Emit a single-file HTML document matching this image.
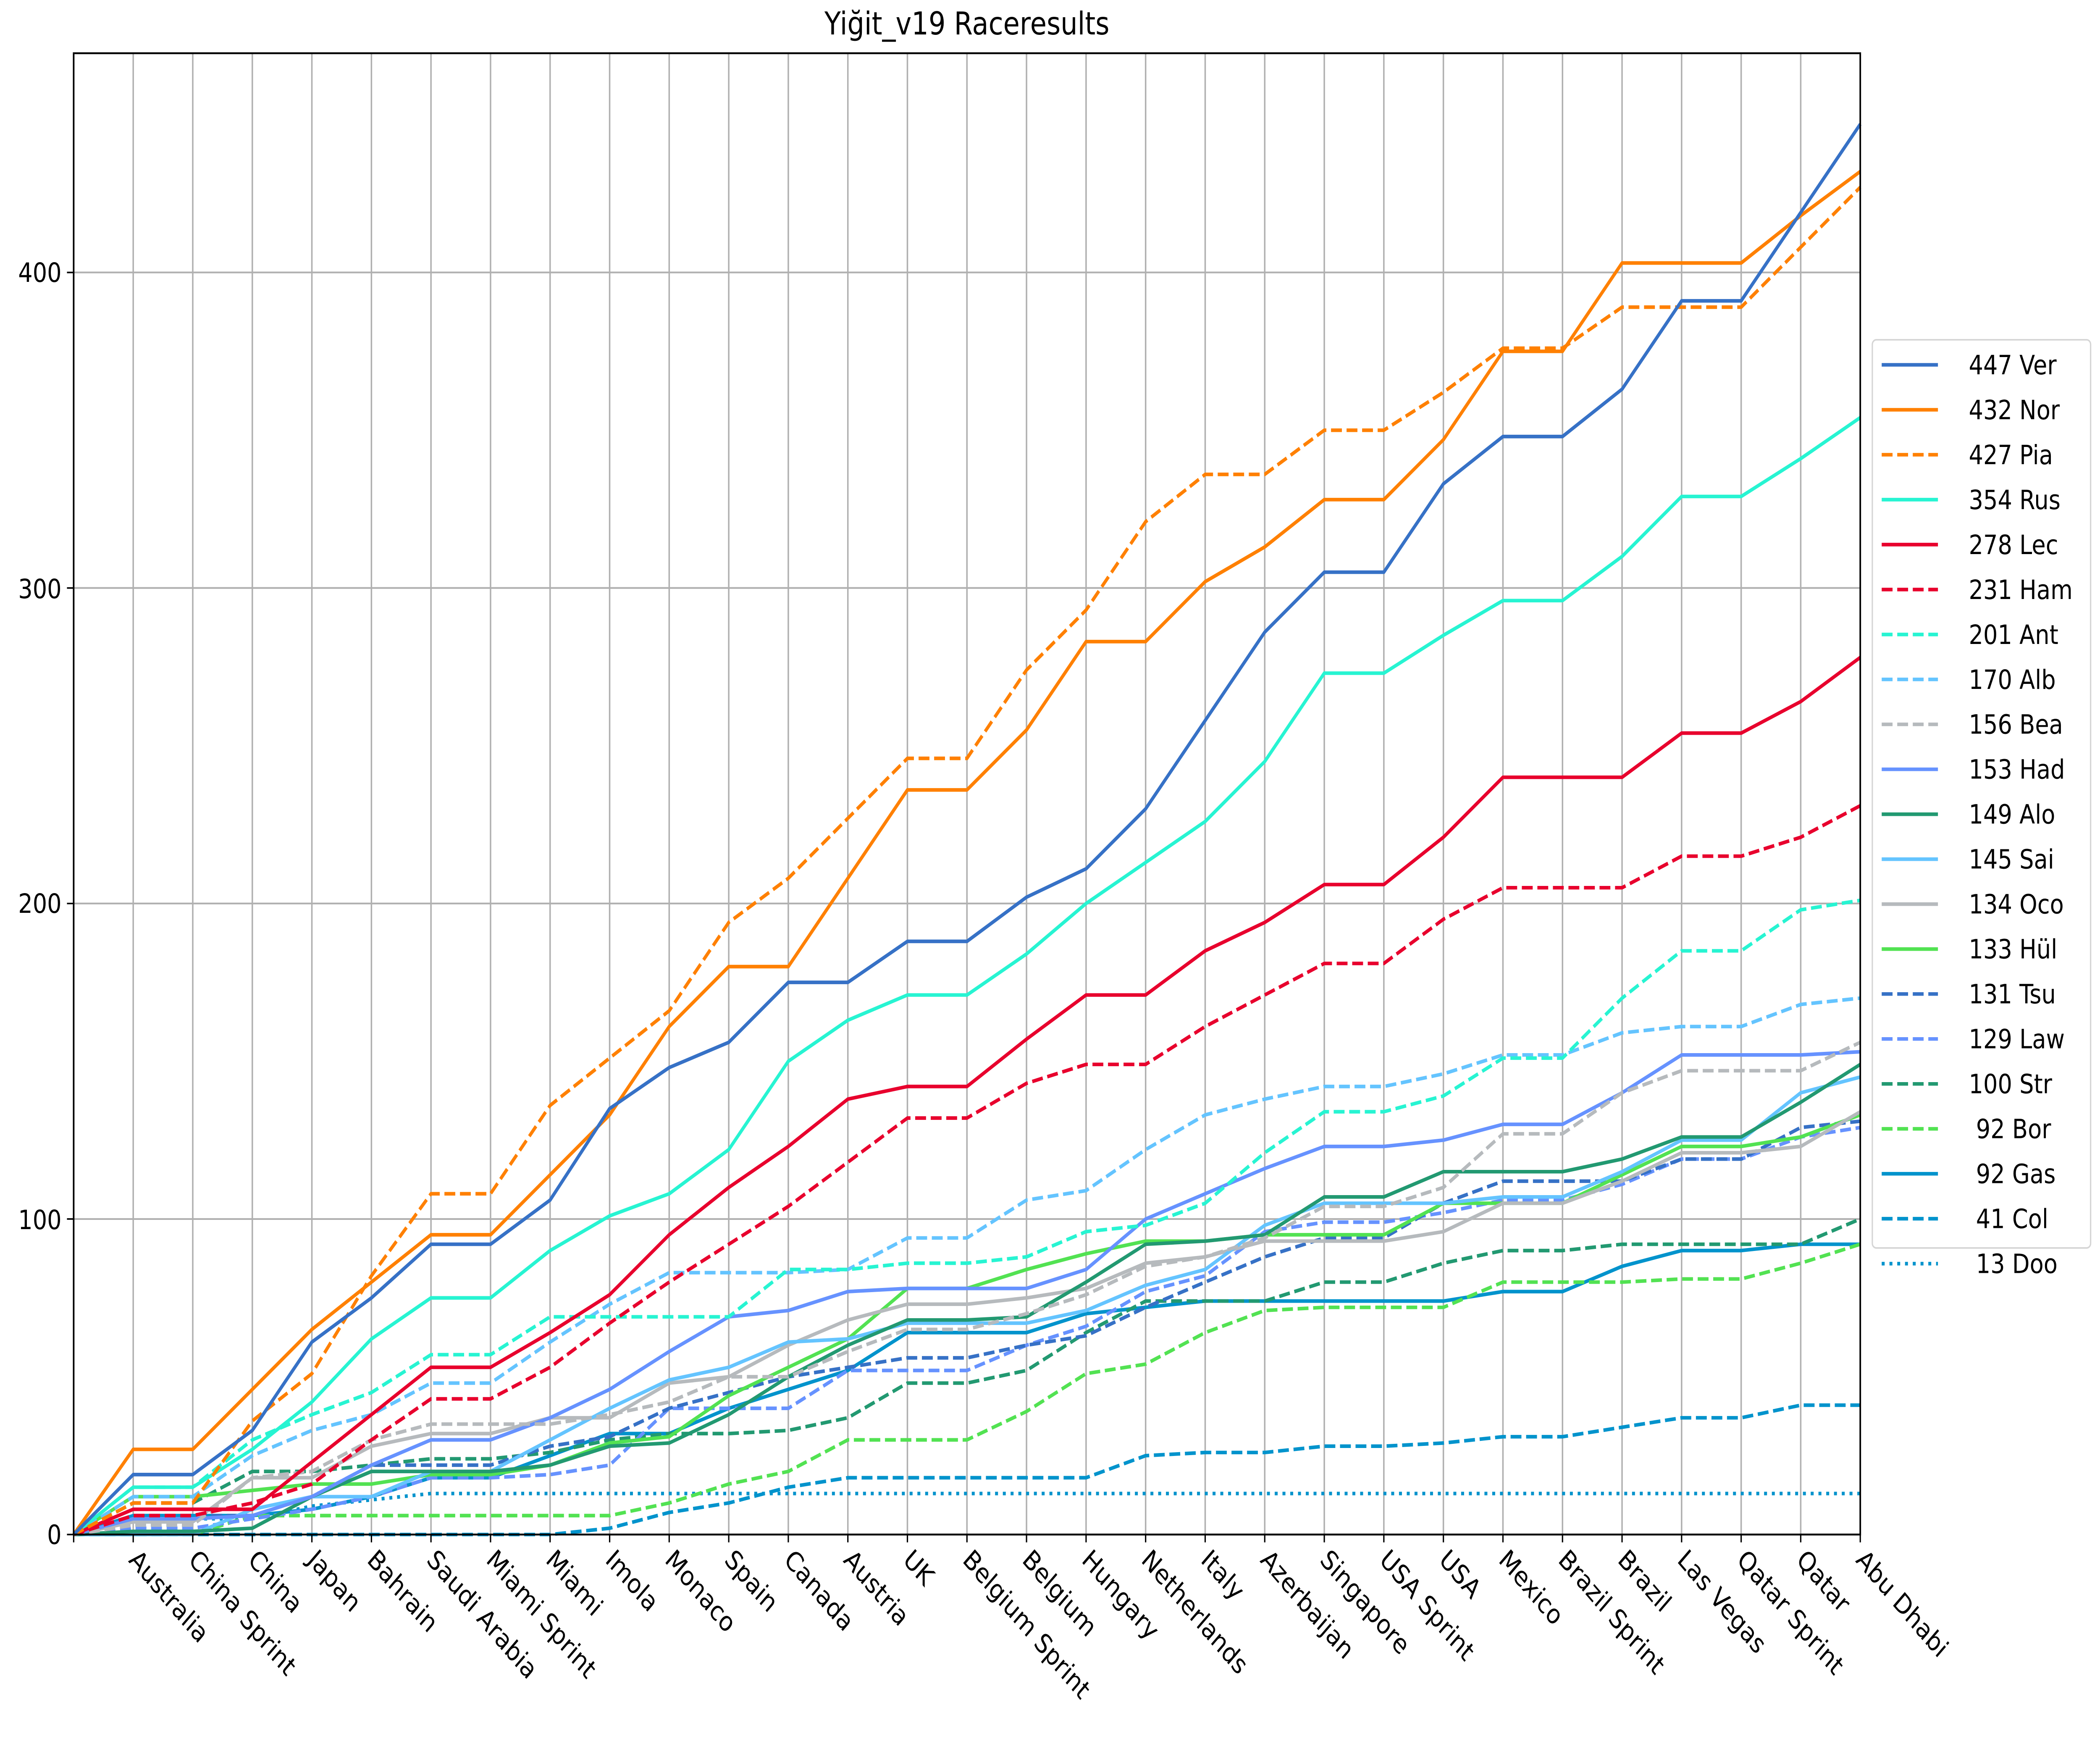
<!DOCTYPE html>
<html><head><meta charset="utf-8">
<style>html,body{margin:0;padding:0;background:#fff;width:100vw;height:100vh;overflow:hidden;}svg{display:block;position:absolute;left:0;top:0;width:100vw;height:100vh;}</style>
</head><body>
<svg id="s" viewBox="0 0 1568 1109.3" preserveAspectRatio="none" xmlns="http://www.w3.org/2000/svg" font-family="DejaVu Sans, Liberation Sans, sans-serif">
<rect x="0" y="0" width="1568" height="1110" fill="#fff"/>
<g id="grid" stroke="#b0b0b0" stroke-width="1.1"></g>
<g id="lines" fill="none" stroke-width="2.3" stroke-linejoin="round"></g>
<rect x="55" y="34" width="1334" height="946" fill="none" stroke="#000" stroke-width="1.2"/>
<g id="ticks" stroke="#000" stroke-width="1"></g>
<text x="722" y="22" font-size="20" text-anchor="middle">Yiğit_v19 Raceresults</text>
<g font-size="17" text-anchor="end">
<text x="46" y="986">0</text>
<text x="46" y="785">100</text>
<text x="46" y="583">200</text>
<text x="46" y="382">300</text>
<text x="46" y="180">400</text>
</g>
<g id="xl" font-size="17"></g>
<rect x="1398" y="217" width="163" height="580" rx="3" fill="#fff" stroke="#d5d5d5" stroke-width="1"/>
<g id="leg" fill="none" stroke-width="2.3"></g>
<g id="legt" font-size="17"></g>
</svg>
<script>
var NS="http://www.w3.org/2000/svg";
function el(t,a,p){var e=document.createElementNS(NS,t);for(var k in a)e.setAttribute(k,a[k]);p.appendChild(e);return e;}
var X0=55,DX=(1389-55)/30;function X(i){return X0+i*DX;}function Y(v){return 980-v*2.015;}
var races=["Australia","China Sprint","China","Japan","Bahrain","Saudi Arabia","Miami Sprint","Miami","Imola","Monaco","Spain","Canada","Austria","UK","Belgium Sprint","Belgium","Hungary","Netherlands","Italy","Azerbaijan","Singapore","USA Sprint","USA","Mexico","Brazil Sprint","Brazil","Las Vegas","Qatar Sprint","Qatar","Abu Dhabi"];
var g=document.getElementById("grid"),tk=document.getElementById("ticks"),xl=document.getElementById("xl");
for(var i=1;i<=30;i++){el("line",{x1:X(i),x2:X(i),y1:34,y2:980},g);el("line",{x1:X(i),x2:X(i),y1:980,y2:985},tk);}
el("line",{x1:55,x2:55,y1:980,y2:985},tk);
[100,200,300,400].forEach(function(v){el("line",{x1:55,x2:1389,y1:Y(v),y2:Y(v)},g);});
[0,100,200,300,400].forEach(function(v){el("line",{x1:50,x2:55,y1:Y(v),y2:Y(v)},tk);});
races.forEach(function(r,i){var x=X(i+1)-4,y=997;var t=el("text",{x:x,y:y,transform:"rotate(45 "+x+" "+y+")"},xl);t.textContent=r;});
var D=[
["447 Ver","#3671c6","",[0,19,19,33,61,75,92,92,106,135,148,156,175,175,188,188,202,211,230,258,286,305,305,333,348,348,363,391,391,419,447]],
["432 Nor","#ff8000","",[0,27,27,46,65,80,95,95,114,133,161,180,180,208,236,236,255,283,283,302,313,328,328,347,375,375,403,403,403,418,432]],
["427 Pia","#ff8000","d",[0,10,10,36,51,82,108,108,136,151,166,194,208,227,246,246,274,293,321,336,336,350,350,362,376,376,389,389,389,408,427]],
["354 Rus","#27f4d2","",[0,15,15,27,42,62,75,75,90,101,108,122,150,163,171,171,184,200,213,226,245,273,273,285,296,296,310,329,329,341,354]],
["278 Lec","#e8002d","",[0,8,8,8,23,38,53,53,64,76,95,110,123,138,142,142,157,171,171,185,194,206,206,221,240,240,240,254,254,264,278]],
["231 Ham","#e8002d","d",[0,6,6,10,16,30,43,43,53,67,80,92,104,118,132,132,143,149,149,161,171,181,181,195,205,205,205,215,215,221,231]],
["201 Ant","#27f4d2","d",[0,15,15,30,38,45,57,57,69,69,69,69,84,84,86,86,88,96,98,105,121,134,134,139,151,151,170,185,185,198,201]],
["170 Alb","#64c4ff","d",[0,12,12,25,33,38,48,48,61,73,83,83,83,84,94,94,106,109,122,133,138,142,142,146,152,152,159,161,161,168,170]],
["156 Bea","#b6babd","d",[0,3,3,18,20,30,35,35,35,38,42,50,50,58,65,65,70,76,85,88,94,104,104,110,127,127,140,147,147,147,156]],
["153 Had","#6692ff","",[0,5,5,6,12,22,30,30,37,46,58,69,71,77,78,78,78,84,100,108,116,123,123,125,130,130,140,152,152,152,153]],
["149 Alo","#229971","",[0,1,1,2,12,20,20,20,22,28,29,38,50,60,68,68,69,80,92,93,95,107,107,115,115,115,119,126,126,137,149]],
["145 Sai","#64c4ff","",[0,0,0,8,12,12,20,20,30,40,49,53,61,62,67,67,67,71,79,84,98,105,105,105,107,107,115,125,125,140,145]],
["134 Oco","#b6babd","",[0,4,4,18,18,28,32,32,37,37,48,50,60,68,73,73,75,78,86,88,93,93,93,96,105,105,112,121,121,123,134]],
["133 Hül","#52e252","",[0,12,12,14,16,16,19,19,22,29,31,44,53,62,78,78,84,89,93,93,95,95,95,105,105,105,114,123,123,126,133]],
["131 Tsu","#3671c6","d",[0,6,6,6,12,22,22,22,28,31,40,45,50,53,56,56,60,63,72,80,88,94,94,105,112,112,112,119,119,129,131]],
["129 Law","#6692ff","d",[0,2,2,5,8,12,18,18,19,22,40,40,40,52,52,52,60,66,77,82,96,99,99,102,106,106,111,119,119,126,129]],
["100 Str","#229971","d",[0,10,10,20,20,22,24,24,26,30,32,32,33,37,48,48,52,64,74,74,74,80,80,86,90,90,92,92,92,92,100]],
[" 92 Bor","#52e252","d",[0,0,0,6,6,6,6,6,6,6,10,16,20,30,30,30,39,51,54,64,71,72,72,72,80,80,80,81,81,86,92]],
[" 92 Gas","#0093cc","",[0,6,6,6,8,12,18,18,25,32,32,40,46,52,64,64,64,70,72,74,74,74,74,74,77,77,85,90,90,92,92]],
[" 41 Col","#0093cc","d",[0,0,0,0,0,0,0,0,0,2,7,10,15,18,18,18,18,18,25,26,26,28,28,29,31,31,34,37,37,41,41]],
[" 13 Doo","#0093cc","o",[0,5,5,5,9,11,13,13,13,13,13,13,13,13,13,13,13,13,13,13,13,13,13,13,13,13,13,13,13,13,13]]
];
var L=document.getElementById("lines"),LG=document.getElementById("leg"),LT=document.getElementById("legt");
function dash(s){return s=="d"?"8.1,3.5":(s=="o"?"2.2,3.6":"none");}
for(var k=D.length-1;k>=0;k--){var d=D[k];el("polyline",{points:d[3].map(function(v,i){return X(i)+","+Y(v);}).join(" "),stroke:d[1],"stroke-dasharray":dash(d[2])},L);}
D.forEach(function(d,k){var y=233+k*28.7;el("line",{x1:1405,x2:1447,y1:y,y2:y,stroke:d[1],"stroke-dasharray":dash(d[2])},LG);var t=el("text",{x:1470,y:y+6},LT);t.setAttribute("style","white-space:pre");t.textContent=d[0];});
</script>
</body></html>
